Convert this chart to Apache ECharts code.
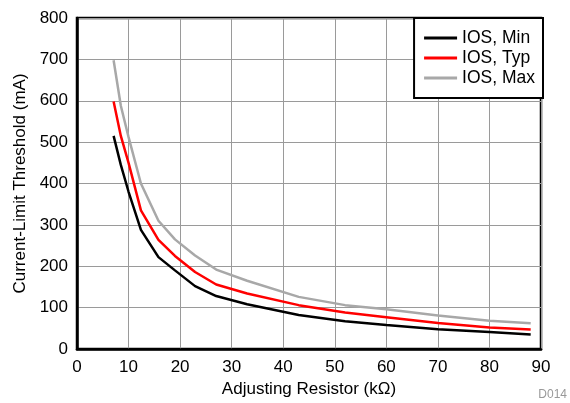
<!DOCTYPE html>
<html><head><meta charset="utf-8">
<script src="https://cdn.jsdelivr.net/npm/echarts@6/dist/echarts.min.js"></script>
<style>html,body{margin:0;padding:0;background:#fff}#c{width:570px;height:403px}</style>
</head><body><div id="c"></div>
<script>
const resistance = [7.1, 8.5, 10, 12.4, 15.8, 19, 22.9, 27, 33, 43, 52, 60, 70, 80, 88];
const iosMin = [515, 445, 380, 288, 222, 190, 152, 128, 108, 82, 67, 58, 48, 41, 35];
const iosTyp = [598, 515, 450, 335, 264, 225, 186, 156, 134, 106, 88, 77, 63, 52, 47];
const iosMax = [698, 588, 512, 400, 310, 265, 226, 192, 165, 126, 106, 96, 81, 68, 62];
const seriesNames = ['IOS, Min', 'IOS, Typ', 'IOS, Max'];
const xTitle = 'Adjusting Resistor (k\u03A9)';
const yTitle = 'Current-Limit Threshold (mA)';
const code = 'D014';

const font = 'Liberation Sans, Arial, sans-serif';
const pair = (ys) => resistance.map((x, i) => [x, ys[i]]);
const colors = ['#000000', '#ff0000', '#a8a8a8'];
const chart = echarts.init(document.getElementById('c'), null, {renderer: 'canvas'});
chart.setOption({
  animation: false,
  grid: {left: 77, right: 29, top: 18, bottom: 54, show: true, borderColor: '#000', borderWidth: 2.5, backgroundColor: 'transparent'},
  xAxis: {
    type: 'value', min: 0, max: 90, interval: 10,
    name: xTitle, nameLocation: 'middle', nameGap: 32,
    nameTextStyle: {fontFamily: font, fontSize: 17, color: '#000'},
    axisLine: {show: true, lineStyle: {color: '#000', width: 2.5}},
    axisTick: {show: false},
    axisLabel: {fontFamily: font, fontSize: 17, color: '#000', margin: 10},
    splitLine: {show: true, lineStyle: {color: '#9a9a9a', width: 1}}
  },
  yAxis: {
    type: 'value', min: 0, max: 800, interval: 100,
    name: yTitle, nameLocation: 'middle', nameGap: 47,
    nameTextStyle: {fontFamily: font, fontSize: 17, color: '#000'},
    axisLine: {show: true, lineStyle: {color: '#000', width: 2.5}},
    axisTick: {show: false},
    axisLabel: {fontFamily: font, fontSize: 17, color: '#000', margin: 9},
    splitLine: {show: true, lineStyle: {color: '#9a9a9a', width: 1}}
  },
  legend: {
    orient: 'vertical', right: 27, top: 18,
    backgroundColor: '#fff', borderColor: '#000', borderWidth: 2,
    padding: [10, 8, 10, 10], itemGap: 0, itemWidth: 33, itemHeight: 3,
    textStyle: {fontFamily: font, fontSize: 17.5, color: '#000', lineHeight: 20},
    icon: 'rect',
    data: seriesNames
  },
  series: [iosMin, iosTyp, iosMax].map((d, i) => ({
    name: seriesNames[i], type: 'line', data: pair(d), showSymbol: false, symbol: 'none',
    smooth: false, z: 3 - i + 2,
    lineStyle: {color: colors[i], width: 2.5}, itemStyle: {color: colors[i]}
  })),
  graphic: [{type: 'text', right: 3, bottom: 2, style: {text: code, font: '12px ' + font, fill: '#999'}}]
});
</script></body></html>
